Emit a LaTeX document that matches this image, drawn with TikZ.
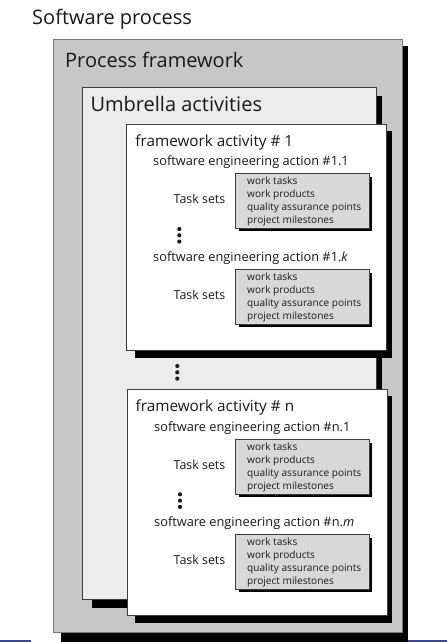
\documentclass[tikz,border=0pt]{standalone}
\usepackage{fontspec}
\setmainfont{Open Sans}
\definecolor{outerfill}{RGB}{199,199,199}
\definecolor{outerline}{RGB}{120,120,120}
\definecolor{umbfill}{RGB}{236,236,236}
\definecolor{boxline}{RGB}{60,60,60}
\definecolor{taskfill}{RGB}{216,216,216}
\definecolor{txt}{RGB}{25,25,25}
\definecolor{blueline}{RGB}{62,72,140}
\newcommand\TaskSet[2]{%
  \fill[black] (239,#2+4) rectangle (371.5,#2+58);
  \node[taskbox, anchor=north west] (#1) at (235,#2) {};
  \node[itemtxt] (#1-a) at (247,#2+11) {work tasks};
  \node[itemtxt] (#1-b) at (247,#2+24) {work products};
  \node[itemtxt] (#1-c) at (247,#2+37) {quality assurance points};
  \node[itemtxt] (#1-d) at (247,#2+50) {project milestones};
  \node[tstxt] (#1-ts) at (173.5,#2+30.3) {Task sets};
}
\newcommand\Vdots[3]{%
  \fill[txt] (#2,#3) circle (2.1pt);
  \fill[txt] (#2,#3+6.3) circle (2.1pt);
  \fill[txt] (#2,#3+12.6) circle (2.1pt);
  \coordinate (#1) at (#2,#3+6.3);
}
\begin{document}
\begin{tikzpicture}[x=1pt,y=-1pt,
  lbl/.style={anchor=base west, inner sep=0pt, text=txt},
  bigtxt/.style={lbl, font=\fontsize{20}{24}\selectfont},
  titletxt/.style={lbl, font=\fontsize{15.3}{18}\selectfont},
  acttxt/.style={lbl, font=\fontsize{12.8}{15}\selectfont},
  tstxt/.style={lbl, font=\fontsize{12.4}{15}\selectfont},
  itemtxt/.style={lbl, font=\fontsize{10.1}{13}\selectfont},
  taskbox/.style={draw=boxline, fill=taskfill, line width=0.8pt,
    minimum width=134pt, minimum height=54.5pt, inner sep=0pt},
  shadowfill/.style={fill=black},
]
\useasboundingbox (0,0) rectangle (447,642);
\fill[white] (0,0) rectangle (447,642);
% slide rule fragments
\fill[blueline] (0,639.8) rectangle (30.7,642);
\fill[blueline] (407.5,639.8) rectangle (447,642);

\node[bigtxt] (sp) at (32,25) {Software process};

% process framework
\fill[shadowfill] (61,46) rectangle (407.5,642);
\draw[draw=outerline, fill=outerfill, line width=0.9pt] (53.5,39.5) rectangle (402,632.5);
\node[bigtxt] (pf) at (65,67.3) {Process framework};

% umbrella activities
\fill[shadowfill] (92,96) rectangle (382,607.5);
\draw[draw=boxline, fill=umbfill, line width=0.8pt] (82.5,87) rectangle (376.5,599);
\node[bigtxt] (ua) at (90.3,111.7) {Umbrella activities};

% framework activity 1
\fill[shadowfill] (135,131) rectangle (391.5,357.5);
\draw[draw=boxline, fill=white, line width=0.8pt] (126.5,124.5) rectangle (386,350);
\node[titletxt] (fa1) at (135.2,146) {framework activity \# 1};
\node[acttxt] (a11) at (153,165.5) {software engineering action \#1.1};
\TaskSet{ts11}{173.3}
\Vdots{d1}{179.3}{229}
\node[acttxt] (a1k) at (153,261) {software engineering action \#1.\textit{k}};
\TaskSet{ts1k}{269}

% dots between activities
\Vdots{dmid}{177.3}{366}

% framework activity n
\fill[shadowfill] (135,395.5) rectangle (392,623.3);
\draw[draw=boxline, fill=white, line width=0.8pt] (127,389.5) rectangle (387,615);
\node[titletxt] (fan) at (135.5,411) {framework activity \# n};
\node[acttxt] (an1) at (154,431) {software engineering action \#n.1};
\TaskSet{tsn1}{439}
\Vdots{dn}{180}{494.3}
\node[acttxt] (anm) at (154,526) {software engineering action \#n.\textit{m}};
\TaskSet{tsnm}{534}
\end{tikzpicture}
\end{document}
